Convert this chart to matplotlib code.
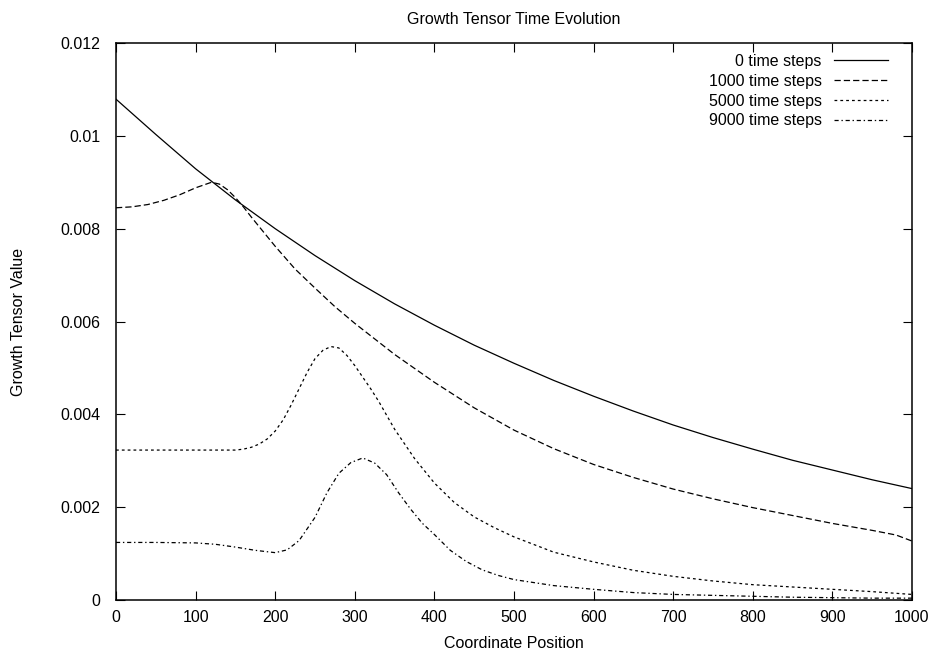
import matplotlib
matplotlib.use("Agg")
import matplotlib.pyplot as plt

plt.rcParams['font.family'] = ['Liberation Sans', 'DejaVu Sans']
plt.rcParams['lines.scale_dashes'] = False

# ---- data ----
x_steps0 = [0, 50, 100, 150, 200, 250, 300, 350, 400, 450, 500, 550, 600,
            650, 700, 750, 800, 850, 900, 950, 1000]
y_steps0 = [0.01079, 0.01003, 0.00929, 0.00862, 0.00800, 0.00742, 0.00688,
            0.00638, 0.00592, 0.00549, 0.00510, 0.00473, 0.00439, 0.00407,
            0.00377, 0.00350, 0.00325, 0.00301, 0.00280, 0.00259, 0.00240]

x_steps1000 = [0, 20, 40, 60, 80, 100, 120, 130, 140, 150, 160, 170, 180, 190,
               200, 225, 250, 275, 300, 350, 400, 450, 500, 550, 600, 650, 700,
               750, 800, 850, 900, 950, 980, 1000]
y_steps1000 = [0.00845, 0.00847, 0.00852, 0.00861, 0.00873, 0.00888, 0.00900,
               0.00896, 0.00884, 0.00867, 0.00847, 0.00825, 0.00804, 0.00783,
               0.00762, 0.00713, 0.00672, 0.00632, 0.00596, 0.00529, 0.00469,
               0.00414, 0.00366, 0.00326, 0.00292, 0.00264, 0.00239, 0.00218,
               0.00199, 0.00182, 0.00165, 0.00150, 0.00140, 0.00127]

x_steps5000 = [0, 50, 100, 150, 160, 170, 180, 190, 200, 210, 220, 230, 240,
               250, 260, 270, 280, 290, 300, 310, 320, 330, 340, 350, 375,
               400, 425, 450, 475, 500, 550, 600, 650, 700, 750, 800, 850,
               900, 950, 1000]
y_steps5000 = [0.00323, 0.00323, 0.00323, 0.00323, 0.00325, 0.00329, 0.00336,
               0.00347, 0.00364, 0.00388, 0.00420, 0.00455, 0.00490, 0.00520,
               0.00538, 0.00546, 0.00543, 0.00527, 0.00505, 0.00480, 0.00455,
               0.00428, 0.00398, 0.00368, 0.00305, 0.00252, 0.00210, 0.00179,
               0.00156, 0.00136, 0.00103, 0.00082, 0.00064, 0.00051, 0.00041,
               0.00033, 0.00028, 0.00023, 0.00018, 0.00012]

x_steps9000 = [0, 50, 100, 125, 150, 175, 200, 215, 230, 250, 265, 280, 295,
               310, 325, 340, 355, 370, 385, 400, 420, 440, 460, 480, 500,
               550, 600, 650, 700, 750, 800, 850, 900, 950, 1000]
y_steps9000 = [0.00124, 0.00124, 0.00123, 0.00120, 0.00114, 0.00107, 0.00102,
               0.00108, 0.00128, 0.00178, 0.00231, 0.00273, 0.00296, 0.00306,
               0.00295, 0.00270, 0.00231, 0.00196, 0.00165, 0.00141, 0.00107,
               0.00083, 0.00065, 0.00053, 0.00044, 0.00031, 0.00023, 0.00016,
               0.00012, 0.00010, 0.00008, 0.00006, 0.00005, 0.00004, 0.00004]

labels = ["0 time steps", "1000 time steps", "5000 time steps", "9000 time steps"]
x_ticks = [0, 100, 200, 300, 400, 500, 600, 700, 800, 900, 1000]
y_ticks = [0, 0.002, 0.004, 0.006, 0.008, 0.01, 0.012]
y_tick_labels = ["0", "0.002", "0.004", "0.006", "0.008", "0.01", "0.012"]

# ---- figure ----
fig = plt.figure(figsize=(9.37, 6.54), dpi=100)
ax = fig.add_axes([116 / 937, 1 - 600 / 654, (912 - 116) / 937, (600 - 43) / 654])

lw = 0.9
ax.plot(x_steps0, y_steps0, color='black', lw=lw, linestyle='-', label=labels[0])
ax.plot(x_steps1000, y_steps1000, color='black', lw=lw, linestyle=(0, (4.5, 2.2)), label=labels[1])
ax.plot(x_steps5000, y_steps5000, color='black', lw=lw, linestyle=(0, (2.0, 2.2)), label=labels[2])
ax.plot(x_steps9000, y_steps9000, color='black', lw=lw, linestyle=(0, (3.0, 2.0, 1.0, 2.0)), label=labels[3])

ax.set_xlim(0, 1000)
ax.set_ylim(0, 0.012)
ax.set_xticks(x_ticks)
ax.set_xticklabels([str(v) for v in x_ticks])
ax.set_yticks(y_ticks)
ax.set_yticklabels(y_tick_labels)

fs = 11.5
ax.tick_params(direction='in', length=6.5, width=0.8, top=True, right=True,
               labelsize=fs, colors='black')
ax.tick_params(axis='x', pad=7)
ax.tick_params(axis='y', pad=11)
for s in ax.spines.values():
    s.set_linewidth(1.1)

ax.set_title("Growth Tensor Time Evolution", fontsize=fs, pad=14)
ax.set_xlabel("Coordinate Position", fontsize=fs, labelpad=8)
ax.set_ylabel("Growth Tensor Value", fontsize=fs, labelpad=25)

leg = ax.legend(loc='upper right', bbox_to_anchor=(1 - 24 / 796, 1 - 11 / 557),
                borderaxespad=0, frameon=False, markerfirst=False, fontsize=fs,
                handlelength=3.4, handletextpad=0.75, labelspacing=0.3,
                borderpad=0)
try:
    for col in leg._legend_box._children[1]._children:
        col.align = 'right'
except Exception:
    pass

fig.savefig("out.png", dpi=100)
